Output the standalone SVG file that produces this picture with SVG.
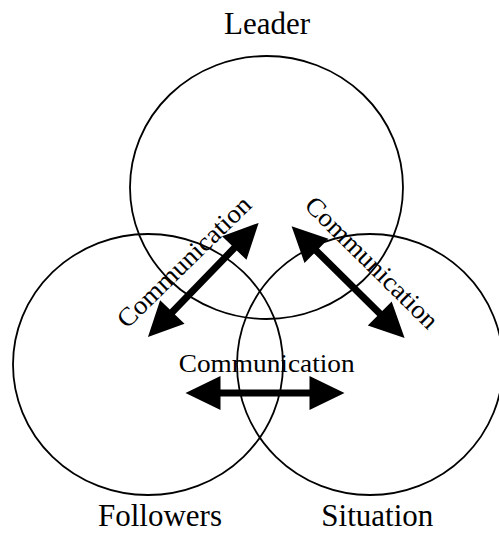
<svg xmlns="http://www.w3.org/2000/svg" width="499" height="533" viewBox="0 0 499 533">
  <style>
    .ring { fill: none; stroke: #000; stroke-width: 1.8; }
    .label { font-family: "Liberation Serif", "Times New Roman", serif; font-size: 31px; fill: #000; text-anchor: middle; }
    .comm { font-family: "Liberation Serif", "Times New Roman", serif; font-size: 26px; fill: #000; text-anchor: middle; }
    .arrow { fill: #000; stroke: none; }
  </style>
  <defs>
    <path id="dbl" d="M -79.5 0 L -44.5 -17 L -44.5 -3.5 L 44.5 -3.5 L 44.5 -17 L 79.5 0 L 44.5 17 L 44.5 3.5 L -44.5 3.5 L -44.5 17 Z"/>
  </defs>
  <rect width="499" height="533" fill="#fff"/>
  <g id="leader">
    <ellipse class="ring" cx="266.5" cy="187.5" rx="136.5" ry="131.5"/>
    <text class="label" x="267" y="34">Leader</text>
  </g>
  <g id="followers">
    <ellipse class="ring" cx="148" cy="364.5" rx="135" ry="130.5"/>
    <text class="label" x="160" y="526">Followers</text>
  </g>
  <g id="situation">
    <ellipse class="ring" cx="370" cy="364.5" rx="133" ry="130.5"/>
    <text class="label" x="377.3" y="526">Situation</text>
  </g>
  <g id="connectors">
    <use href="#dbl" class="arrow" transform="translate(203.3,280) rotate(-45.9)"/>
    <use href="#dbl" class="arrow" transform="translate(348.1,282.2) rotate(44.7)"/>
    <use href="#dbl" class="arrow" transform="translate(265,393)"/>
    <text class="comm" transform="translate(190,268) rotate(-44.3)" x="0" y="0" textLength="176" lengthAdjust="spacingAndGlyphs">Communication</text>
    <text class="comm" transform="translate(365.7,268.7) rotate(44.7)" x="0" y="0" textLength="176" lengthAdjust="spacingAndGlyphs">Communication</text>
    <text class="comm" x="266.7" y="371.7" textLength="176" lengthAdjust="spacingAndGlyphs">Communication</text>
  </g>
</svg>
